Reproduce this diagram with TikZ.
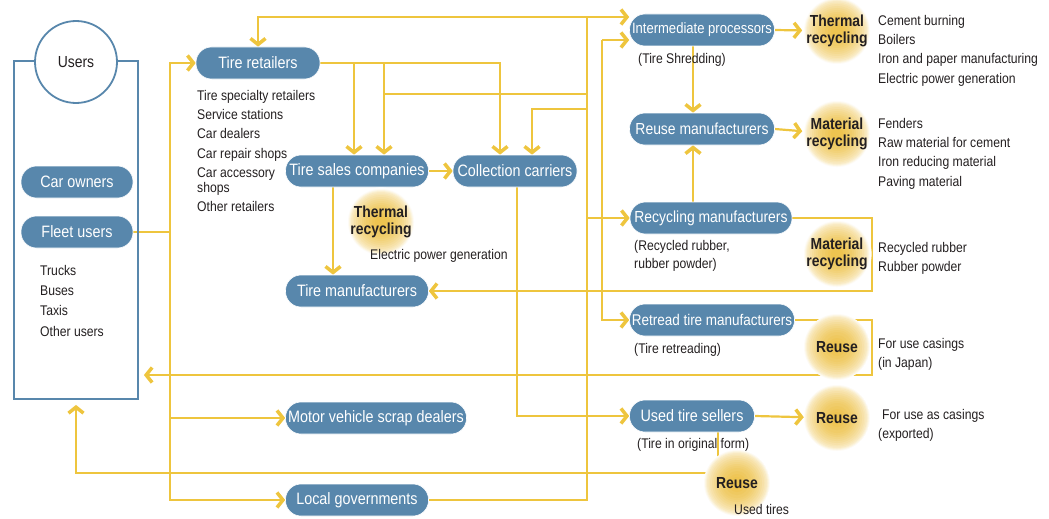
\documentclass[tikz,border=0pt]{standalone}
\usepackage{fontspec}
\setmainfont{Liberation Sans}[FakeStretch=0.87]
\usetikzlibrary{arrows.meta}
\definecolor{pillblue}{RGB}{88,135,172}
\definecolor{flowgold}{RGB}{238,197,62}
\definecolor{glowgold}{RGB}{238,196,80}
\definecolor{inkgray}{RGB}{35,31,32}
\pgfdeclarelayer{bg}
\pgfsetlayers{bg,main}

\begin{document}
\begin{tikzpicture}[x=1pt,y=-1pt,>={Straight Barb[length=6pt,width=15pt,line width=3.5pt]}]
        \tikzstyle{pill}=[rectangle, rounded corners=15.5pt, fill=pillblue, draw=white, line width=0.6pt, text=white, minimum height=32, inner xsep=1pt, font=\fontsize{16.5}{18}\selectfont]
        \tikzstyle{glow}=[circle, minimum size=66, inner sep=0pt, fill=white, align=center, text=inkgray, font=\fontsize{16}{17.5}\selectfont\bfseries,
            path picture={\foreach \r/\p in {33/6,32/16,31/26,30/35,28.5/43,27/50,25/57,23/64,21/70,19/76,17/81,15/86,12/91,9/96,6/100}
                \fill[glowgold!\p!white] (path picture bounding box.center) circle (\r pt);}]
        \tikzstyle{lbl}=[anchor=north west, inner sep=0pt, align=left, text=inkgray, font=\fontsize{14}{19.3}\selectfont]
        \tikzstyle{flow}=[draw=flowgold, line width=2.2pt]
        \useasboundingbox (0,0) rectangle (1049,519);
        \node[draw=pillblue, line width=1.8pt, minimum width=124, minimum height=338, inner sep=0pt] (ubox) at (76,230) {};
        \node[circle, draw=pillblue, line width=1.8pt, fill=white, minimum size=82, inner sep=0pt, text=inkgray, font=\fontsize{16}{18}\selectfont] (users) at (76,62) {Users};
        \node[pill, minimum width=112] (carown) at (77,182) {Car owners};
        \node[pill, minimum width=112] (fleet) at (77,232) {Fleet users};
        \node[lbl, font=\fontsize{14}{20.3}\selectfont] (fleetlist) at (40,265) {Trucks\\Buses\\Taxis\\Other users};
        \node[pill, minimum width=124] (retail) at (258,63) {Tire retailers};
        \node[lbl] (retaillist) at (197,90) {Tire specialty retailers\\Service stations\\Car dealers\\Car repair shops\\Car accessory\\[-4.4pt]shops\\Other retailers};
        \node[pill, minimum width=143] (sales) at (357,171) {Tire sales companies};
        \node[pill, minimum width=124] (collect) at (515,171) {Collection carriers};
        \node[pill, minimum width=143] (manuf) at (357,291) {Tire manufacturers};
        \node[pill, minimum width=181] (scrap) at (376,418) {Motor vehicle scrap dealers};
        \node[pill, minimum width=143] (localgov) at (357,500) {Local governments};
        \node[pill, minimum width=145, font=\fontsize{15}{18}\selectfont] (inter) at (702,30) {Intermediate processors};
        \node[pill, minimum width=145, font=\fontsize{16}{18}\selectfont] (reuseman) at (702,129) {Reuse manufacturers};
        \node[pill, minimum width=162, font=\fontsize{16}{18}\selectfont] (recyc) at (711,218) {Recycling manufacturers};
        \node[pill, minimum width=165, font=\fontsize{15.5}{18}\selectfont] (retread) at (712,320) {Retread tire manufacturers};
        \node[pill, minimum width=125] (usedsell) at (692,416) {Used tire sellers};
        \node[lbl] (shred) at (638,53) {(Tire Shredding)};
        \node[lbl, font=\fontsize{14}{18.5}\selectfont] (rubber) at (634,240) {(Recycled rubber,\\rubber powder)};
        \node[lbl] (retreading) at (634,343) {(Tire retreading)};
        \node[lbl] (origform) at (637,438) {(Tire in original form)};
        \node[glow] (therm0) at (381,222) {Thermal\\recycling};
        \node[lbl] (power) at (370,249) {Electric power generation};
        \node[glow] (therm1) at (837,31) {Thermal\\recycling};
        \node[glow] (mat1) at (837,134) {Material\\recycling};
        \node[glow] (mat2) at (837,254) {Material\\recycling};
        \node[glow] (reuse1) at (837,347) {Reuse};
        \node[glow] (reuse2) at (837,418) {Reuse};
        \node[glow] (reuse3) at (737,483) {Reuse};
        \node[lbl] (usedtires) at (734,504) {Used tires};
        \node[lbl] (thermuse) at (878,15) {Cement burning\\Boilers\\Iron and paper manufacturing\\Electric power generation};
        \node[lbl] (matuse) at (878,118) {Fenders\\Raw material for cement\\Iron reducing material\\Paving material};
        \node[lbl, font=\fontsize{14}{19}\selectfont] (rubberuse) at (878,242) {Recycled rubber\\Rubber powder};
        \node[lbl] (japanuse) at (878,338) {For use casings\\(in Japan)};
        \node[lbl] (exportuse) at (882,409) {For use as casings};
        \node[lbl] (exported) at (878,428) {(exported)};
        \coordinate (lt) at (170,63);
        \coordinate (rt) at (587,17);
        \coordinate (s1) at (354,63);
        \coordinate (s2) at (384,63);
        \coordinate (m1) at (587,94);
        \coordinate (m2) at (587,109);
        \coordinate (v2) at (602,40);
        \coordinate (rx) at (872,291);
        \coordinate (ry) at (872,375);
        \begin{pgfonlayer}{bg}
        \draw[flow,->] (fleet.east) -| (lt) -- (retail.west);
        \draw[flow,->] (fleet.east -| lt) |- (scrap.west);
        \draw[flow,->] (fleet.east -| lt) |- (localgov.west);
        \draw[flow,->] (localgov.east) -| (rt) -| (retail.north);
        \draw[flow,->] (rt) -- (rt -| inter.west);
        \draw[flow,->] (retail.east) -| ([xshift=-15]collect.north);
        \draw[flow,->] (s1) -- (s1 |- sales.north);
        \draw[flow,->] (s2) -- (s2 |- sales.north);
        \draw[flow] (m1) -- (m1 -| s2);
        \draw[flow,->] (m2) -| ([xshift=17]collect.north);
        \draw[flow,->] (sales.east) -- (collect.west);
        \draw[flow,->] ([xshift=-24]sales.south) -- ([xshift=-24]manuf.north);
        \draw[flow,->] ([xshift=2]collect.south) |- (usedsell.west);
        \draw[flow,->] (recyc.west -| rt) -- (recyc.west);
        \draw[flow,->] (v2) -- (v2 -| inter.west);
        \draw[flow,->] (v2) |- (retread.west);
        \draw[flow,->] (inter.east) -- (therm1);
        \draw[flow,->] ([xshift=-9]inter.south) -- ([xshift=-9]reuseman.north);
        \draw[flow,->] ([xshift=-18]recyc.north) -- ([xshift=-9]reuseman.south);
        \draw[flow,->] (reuseman.east) -- (mat1);
        \draw[flow,->] (recyc.east) -| (rx) -- (manuf.east);
        \draw[flow,->,shorten >=5pt] (retread.east) -| (ry) -- (ry -| ubox.east);
        \draw[flow,->] (usedsell.east) -- (reuse2);
        \draw[flow] ([xshift=26]usedsell.south) -- ([xshift=26]usedsell.south |- reuse3.center);
        \draw[flow,->,shorten >=5pt] ([yshift=10]reuse3.center) -| (ubox.south);
        \end{pgfonlayer}
    \end{tikzpicture}
\end{document}
